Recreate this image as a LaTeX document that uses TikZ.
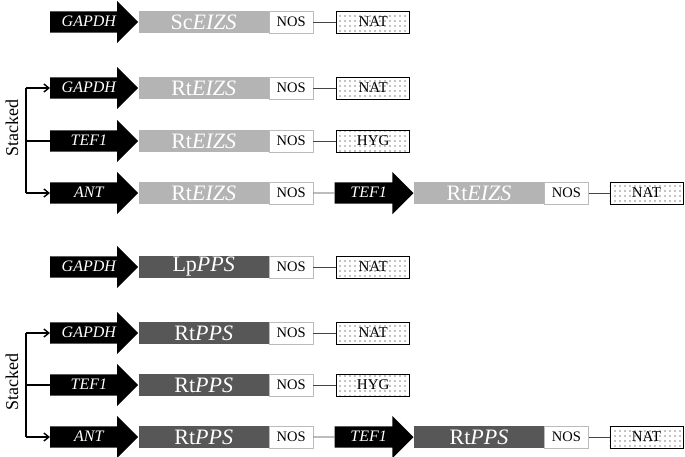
\documentclass[tikz,border=0pt]{standalone}
\usepackage{fontspec}
\setmainfont{Liberation Serif}
\usepackage{xcolor}
\usepackage{tikz}
\usetikzlibrary{positioning,arrows.meta,shapes.arrows,patterns.meta}
\definecolor{grisclaro}{HTML}{B4B4B4}
\definecolor{grisoscuro}{HTML}{575757}
\definecolor{grisborde}{HTML}{BBBBBB}
\definecolor{gristrazo}{HTML}{444444}

\begin{document}
\begin{tikzpicture}[x=1pt, y=-1pt,
  promotor/.style={shape=single arrow, fill=black, text=white, anchor=west,
    single arrow head extend=10.5pt, minimum height=88pt, inner xsep=2pt, inner ysep=3.5pt,
    text height=11pt, text depth=3pt, font=\fontsize{16}{16}\selectfont\itshape},
  gen/.style={minimum width=130pt, minimum height=22pt, inner sep=0pt, text=white,
    font=\fontsize{22}{22}\selectfont},
  term/.style={draw=grisborde, fill=white, minimum width=44pt, minimum height=22pt,
    inner sep=0pt, font=\fontsize{14.5}{14.5}\selectfont},
  marcador/.style={draw, line width=0.8pt, pattern={Dots[distance=5pt, radius=0.6pt]},
    minimum width=73pt, minimum height=22pt, inner sep=0pt, font=\fontsize{15}{15}\selectfont},
  linea/.style={draw=gristrazo, line width=0.9pt},
  rama/.style={line width=1.4pt, -{Straight Barb[length=5pt, width=8pt]}},
  apilado/.style={rotate=90, font=\fontsize{18}{18}\selectfont}]
  \useasboundingbox (0,0) rectangle (685,456);

  % ScEIZS
  \node[promotor] (p1) at (50,22) {GAPDH};
  \node[gen, fill=grisclaro, right=0pt of p1] (g1) {Sc\textit{EIZS}};
  \node[term, right=0pt of g1] (t1) {NOS};
  \node[marcador, right=23pt of t1] (m1) {NAT};
  \draw[linea] (t1) -- (m1);

  % RtEIZS apilado
  \node[promotor] (p2) at (50,88) {GAPDH};
  \node[gen, fill=grisclaro, right=0pt of p2] (g2) {Rt\textit{EIZS}};
  \node[term, right=0pt of g2] (t2) {NOS};
  \node[marcador, right=23pt of t2] (m2) {NAT};
  \draw[linea] (t2) -- (m2);

  \node[promotor] (p3) at (50,141) {TEF1};
  \node[gen, fill=grisclaro, right=0pt of p3] (g3) {Rt\textit{EIZS}};
  \node[term, right=0pt of g3] (t3) {NOS};
  \node[marcador, right=23pt of t3] (m3) {HYG};
  \draw[linea] (t3) -- (m3);

  \node[promotor] (p4) at (50,193) {ANT};
  \node[gen, fill=grisclaro, right=0pt of p4] (g4) {Rt\textit{EIZS}};
  \node[term, right=0pt of g4] (t4) {NOS};
  \node[promotor, minimum height=79pt, right=21pt of t4] (q4) {TEF1};
  \node[gen, fill=grisclaro, right=0pt of q4] (h4) {Rt\textit{EIZS}};
  \node[term, right=0pt of h4] (u4) {NOS};
  \node[marcador, right=21pt of u4] (m4) {NAT};
  \draw[linea] (t4) -- (q4);
  \draw[linea] (u4) -- (m4);

  \coordinate (llave1) at (26,141);
  \node[apilado] (ap1) at (12,128) {Stacked};
  \draw[line width=1.4pt] (llave1 |- p2.west) -- (llave1 |- p4.west);
  \draw[rama] (llave1 |- p2.west) -- (p2.west);
  \draw[line width=1.4pt] (llave1) -- (p3.west);
  \draw[rama] (llave1 |- p4.west) -- (p4.west);

  % LpPPS
  \node[promotor] (p5) at (50,267) {GAPDH};
  \node[gen, fill=grisoscuro, right=0pt of p5] (g5) {Lp\textit{PPS}};
  \node[term, right=0pt of g5] (t5) {NOS};
  \node[marcador, right=23pt of t5] (m5) {NAT};
  \draw[linea] (t5) -- (m5);

  % RtPPS apilado
  \node[promotor] (p6) at (50,333) {GAPDH};
  \node[gen, fill=grisoscuro, right=0pt of p6] (g6) {Rt\textit{PPS}};
  \node[term, right=0pt of g6] (t6) {NOS};
  \node[marcador, right=23pt of t6] (m6) {NAT};
  \draw[linea] (t6) -- (m6);

  \node[promotor] (p7) at (50,385) {TEF1};
  \node[gen, fill=grisoscuro, right=0pt of p7] (g7) {Rt\textit{PPS}};
  \node[term, right=0pt of g7] (t7) {NOS};
  \node[marcador, right=23pt of t7] (m7) {HYG};
  \draw[linea] (t7) -- (m7);

  \node[promotor] (p8) at (50,437) {ANT};
  \node[gen, fill=grisoscuro, right=0pt of p8] (g8) {Rt\textit{PPS}};
  \node[term, right=0pt of g8] (t8) {NOS};
  \node[promotor, minimum height=79pt, right=21pt of t8] (q8) {TEF1};
  \node[gen, fill=grisoscuro, right=0pt of q8] (h8) {Rt\textit{PPS}};
  \node[term, right=0pt of h8] (u8) {NOS};
  \node[marcador, right=21pt of u8] (m8) {NAT};
  \draw[linea] (t8) -- (q8);
  \draw[linea] (u8) -- (m8);

  \coordinate (llave2) at (26,385);
  \node[apilado] (ap2) at (12,382) {Stacked};
  \draw[line width=1.4pt] (llave2 |- p6.west) -- (llave2 |- p8.west);
  \draw[rama] (llave2 |- p6.west) -- (p6.west);
  \draw[line width=1.4pt] (llave2) -- (p7.west);
  \draw[rama] (llave2 |- p8.west) -- (p8.west);
\end{tikzpicture}
\end{document}
